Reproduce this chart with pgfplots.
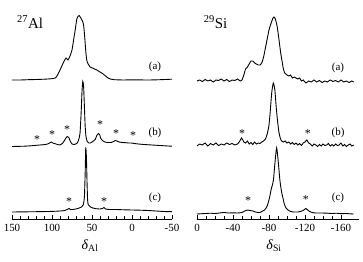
\documentclass[border=0pt]{standalone}
\usepackage{pgfplots}
\usepackage{pgfplotstable}
\pgfplotsset{compat=1.18}
\usepackage{fontspec}
\setmainfont{Liberation Serif}

% Al traces: d = delta (ppm), h = height above baseline (px)
\pgfplotstableread{
d h
150 0
140 0
130 0.3
120 0.5
110 0.8
102 1.2
96 2
93 5
90 10
86 17
82.5 22
80 20
77.5 24
75 30
73 40
71 50
69 61
67 64
66 64.5
64 62
62 59
60.5 55
59 42
57.5 26
56 18
54 15
52.5 13
48 11.5
44 10
40 8
36 6
33 4
30 2
27 1
22 0.3
10 0
0 0.2
-20 0
-35 0.3
-50 0.8
}\AlA

\pgfplotstableread{
d h
150 0
135 0.3
125 0.8
120 1.2
115 1.5
108 2
104 3
101 4.5
99 3.5
95 2.5
90 1.5
86 4
83 8
81 10
79 9
77 5
75 2.5
72 2
69 3
67 6
65 13
63.5 35
62.5 55
61.5 65
60.5 60
59.5 40
58.5 20
57.5 10
56 5
54 3.5
52 3.5
49 5
46 7
44 11
42 13
40.5 12
39 8
37 6
34 4.5
30 4
26 4
23 5
21 6
19 5.5
16 4.5
12 4
8 3.8
4 3.5
1 3.5
-3 3
-8 2.5
-15 2
-25 1.5
-35 1
-45 0.5
-50 0.3
}\AlB

\pgfplotstableread{
d h
150 0
120 0.3
100 0.6
90 1
84 1.5
80 3
78.5 3.5
77 2.5
74 2.5
70 3
66 4
63 5
61 7
59.5 15
58.5 40
57.8 64
57 55
56.2 30
55.5 12
54.5 7
52 5
49 4
45 3.3
40 3
37 3.5
35 4.5
33 3
28 2.5
20 2.5
10 2.2
0 2
-10 1.8
-20 1.5
-30 1
-40 0.5
-50 0.3
}\AlC

% Si traces
\pgfplotstableread{
d h
0 0
-3 1
-6 -0.5
-9 1.5
-12 0
-15 1
-18 -1
-21 1
-24 0.5
-27 2
-30 0
-33 1.5
-36 -0.5
-39 1
-42 0.5
-45 2
-48 0
-50 1
-52 6
-54 12
-56 14
-58 17
-60 20
-62 20
-64 18
-66 17
-68 16
-70 16
-72 18
-74 24
-76 33
-78 42
-80 51
-82 57
-84 62
-85.5 64
-87 62
-89 55
-91 42
-93 28
-94.5 20
-96 12
-97.5 8
-100 6
-102 5
-104 6
-106 3
-108 4
-110 3
-112 2
-114 3
-116 0
-118 1
-121 -2
-124 0
-127 -1
-130 1
-133 -1
-136 0.5
-139 -1.5
-142 0
-145 -1
-148 1
-151 -0.5
-154 0.5
-157 -1
-160 1
-163 -1
-166 0
-169 -1.5
-172 0
-174 -1
}\SiA

\pgfplotstableread{
d h
0 -1
-3 1
-6 0
-9 2
-12 -1
-15 1.5
-18 0
-21 2
-24 -0.5
-27 1
-30 0
-33 2
-36 0.5
-39 1.5
-42 0
-45 1
-47 3
-49.5 7
-52 3
-54 2
-56 4
-58 1
-60 2.5
-62 0.5
-64 3
-66 1
-68 2
-70 1.5
-72 3
-74 4
-76 6
-78 11
-80 20
-81.5 35
-83 52
-84.8 62
-86.5 55
-88 38
-89.5 24
-91 13
-92.5 7
-94 4
-96 3
-98 4
-100 2
-102 3
-104 1
-106 2.5
-108 0.5
-110 2
-112 0
-114 1.5
-116 -0.5
-118 2
-120 3
-122 5
-124 2
-126 1
-128 -1
-130 1
-132 0
-134 -1.5
-136 0.5
-138 -1
-140 1
-142 -0.5
-144 0
-146 1.5
-148 -1
-150 0.5
-152 -1
-154 1
-156 -0.5
-158 0
-160 2
-162 -1
-164 0.5
-166 -1.5
-168 0
-170 1
-172 -1
-174 0
}\SiB

\pgfplotstableread{
d h
0 0
-5 0.3
-10 0.5
-15 0.8
-20 0.5
-25 1
-30 1.5
-35 1
-40 1.2
-45 1
-50 1.5
-53 3
-56 4
-59 3.5
-62 3
-65 2
-68 1.5
-70 1.5
-72 2.5
-75 4
-78 8
-80.5 16
-82.5 25
-84.8 33
-86.5 50
-88.5 66
-90.5 50
-92.2 33
-94 22
-95.5 16
-97 10
-99 6
-101 4
-104 2.5
-108 2
-112 2
-115 2.5
-118 3.5
-121 5.5
-123 4
-125 2.5
-128 1.5
-132 1
-138 1
-145 0.8
-150 0.5
-155 0.8
-160 0.3
-165 0.5
-170 0.2
-174 0
}\SiC

\pgfplotsset{
  spec/.style={
    scale only axis,
    height=209bp,
    ymin=0, ymax=209,
    x dir=reverse,
    axis x line=bottom,
    axis y line=none,
    x axis line style={-, line width=0.9pt},
    tick align=inside,
    major tick length=4bp,
    minor tick length=2.5bp,
    every tick/.style={black, line width=0.7pt},
    tick label style={font=\fontsize{11}{12}\selectfont, yshift=-1.5bp},
    /pgf/number format/assume math mode=true,
    clip=false,
    anchor=south west,
  },
  trace/.style={black, line width=0.9pt, smooth, tension=0.4, no markers},
}

\newcommand{\spk}[1]{\node[font=\fontsize{12}{12}\selectfont, anchor=center] at (#1) {*};}
\newcommand{\lab}[2]{\node[font=\fontsize{11}{12}\selectfont, anchor=center] at (#1) {#2};}

\begin{document}
\begin{tikzpicture}
\path[use as bounding box] (0,0) rectangle (363bp,262bp);

\begin{axis}[spec,
  at={(12bp,43bp)}, width=160bp,
  xmin=-50, xmax=150,
  xtick={-50,0,50,100,150},
  minor x tick num=4,
]
\addplot[trace] table[x=d, y expr=\thisrow{h}+139]{\AlA};
\addplot[trace] table[x=d, y expr=\thisrow{h}+72.5]{\AlB};
\addplot[trace] table[x=d, y expr=\thisrow{h}+7]{\AlC};
\lab{axis cs:-28.75,152}{(a)}
\lab{axis cs:-28.75,86}{(b)}
\lab{axis cs:-28.75,21}{(c)}
\spk{axis cs:118.75,79}
\spk{axis cs:100,84}
\spk{axis cs:81.25,89}
\spk{axis cs:40,94}
\spk{axis cs:20,85}
\spk{axis cs:-1.25,83}
\spk{axis cs:78.75,17}
\spk{axis cs:35,17}
\node[anchor=base west, font=\fontsize{15}{18}\selectfont, inner sep=0pt] at (axis cs:143.75,191) {\textsuperscript{27}Al};
\node[anchor=center, font=\fontsize{14}{16}\selectfont] at (axis cs:52.5,-27) {\textit{δ}\textsubscript{Al}};
\end{axis}

\begin{axis}[spec,
  at={(197bp,43bp)}, width=162bp,
  xmin=-180, xmax=0,
  xtick={0,-40,-80,-120,-160},
  minor x tick num=3,
]
\addplot[trace] table[x=d, y expr=\thisrow{h}+138]{\SiA};
\addplot[trace] table[x=d, y expr=\thisrow{h}+74]{\SiB};
\addplot[trace] table[x=d, y expr=\thisrow{h}+5]{\SiC};
\lab{axis cs:-156.7,151}{(a)}
\lab{axis cs:-156.7,86}{(b)}
\lab{axis cs:-156.7,21}{(c)}
\spk{axis cs:-50,85}
\spk{axis cs:-123.3,85}
\spk{axis cs:-56.7,18}
\spk{axis cs:-121,19}
\node[anchor=base west, font=\fontsize{15}{18}\selectfont, inner sep=0pt] at (axis cs:-7.4,191) {\textsuperscript{29}Si};
\node[anchor=center, font=\fontsize{14}{16}\selectfont] at (axis cs:-85.6,-27) {\textit{δ}\textsubscript{Si}};
\end{axis}
\end{tikzpicture}
\end{document}
